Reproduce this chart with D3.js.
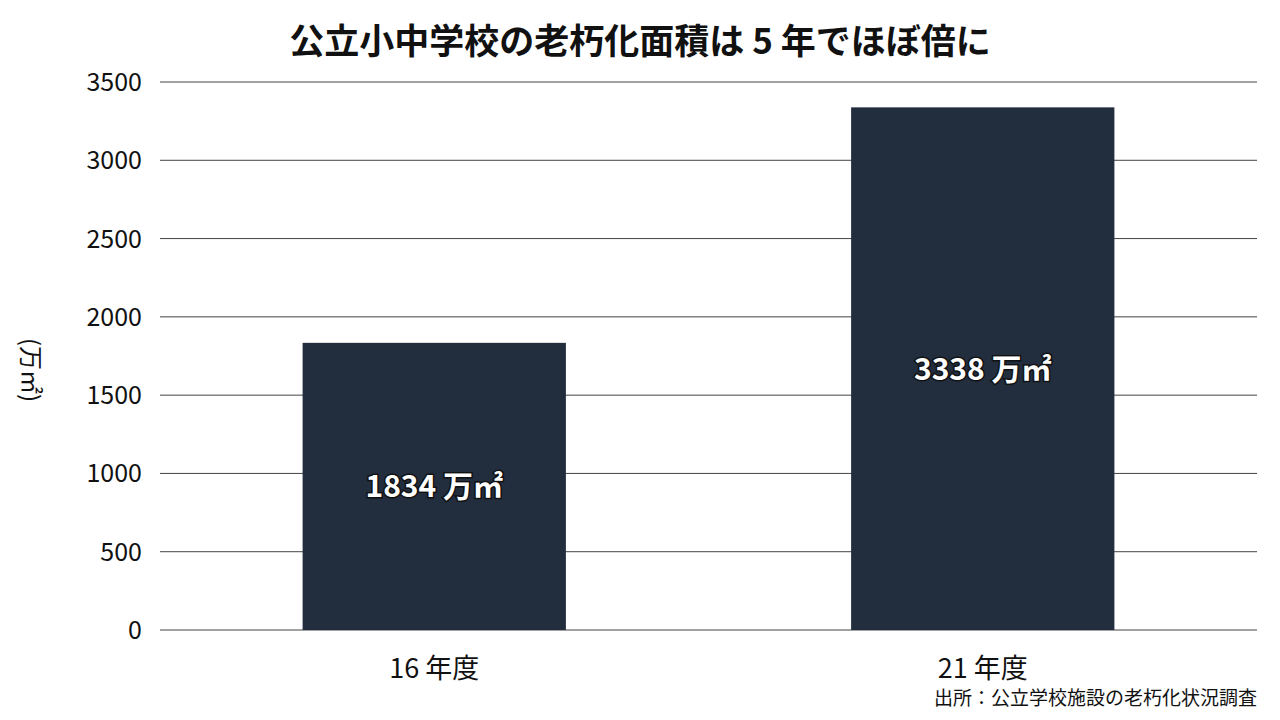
<!DOCTYPE html>
<html><head><meta charset="utf-8">
<script src="https://cdn.jsdelivr.net/npm/d3@7"></script>
<style>body{margin:0;background:#fff}text{font-family:"Noto Sans CJK JP","Noto Sans",sans-serif}</style>
</head><body><svg id="c" width="1280" height="720"></svg>
<script>
const categories = ["16 年度", "21 年度"];
const values = [1834, 3338];
const barLabels = ["1834 万㎡", "3338 万㎡"];
const yTicks = [0, 500, 1000, 1500, 2000, 2500, 3000, 3500];

const svg = d3.select("#c");
const x = d3.scaleBand().domain(categories).range([160, 1257]).padding(0);
const y = d3.scaleLinear().domain([0, 3500]).range([630, 82]);
const bw = x.bandwidth() * 0.48;

svg.append("g").selectAll("line").data(yTicks).join("line")
  .attr("x1", 160).attr("x2", 1257).attr("y1", d => y(d)).attr("y2", d => y(d))
  .attr("stroke", "#444").attr("stroke-width", 1);
svg.append("g").selectAll("text").data(yTicks).join("text")
  .attr("x", 142).attr("y", d => y(d) + 9).attr("text-anchor", "end")
  .attr("font-size", 25).attr("fill", "#111").text(d => d);

svg.append("g").selectAll("rect").data(values).join("rect")
  .attr("x", (d, i) => x(categories[i]) + x.bandwidth() / 2 - bw / 2)
  .attr("width", bw).attr("y", d => y(d)).attr("height", d => y(0) - y(d))
  .attr("fill", "#222d3e");

svg.append("g").selectAll("text").data(values).join("text")
  .attr("x", (d, i) => x(categories[i]) + x.bandwidth() / 2)
  .attr("y", d => (y(d) + y(0)) / 2 + 11)
  .attr("text-anchor", "middle").attr("font-size", 30).attr("font-weight", "bold")
  .attr("fill", "#fff").attr("stroke", "#111").attr("stroke-width", 3).attr("paint-order", "stroke")
  .text((d, i) => barLabels[i]);

svg.append("g").selectAll("text").data(categories).join("text")
  .attr("x", d => x(d) + x.bandwidth() / 2).attr("y", 678).attr("text-anchor", "middle")
  .attr("font-size", 27).attr("fill", "#111").text(d => d);

svg.append("text").attr("transform", "translate(22,370) rotate(90)").attr("text-anchor", "middle")
  .attr("font-size", 24).attr("fill", "#111").text("(万㎡)");

svg.append("text").attr("x", 640).attr("y", 54).attr("text-anchor", "middle")
  .attr("font-size", 35).attr("font-weight", "bold").attr("fill", "#111")
  .text("公立小中学校の老朽化面積は 5 年でほぼ倍に");

svg.append("text").attr("x", 1257).attr("y", 705).attr("text-anchor", "end")
  .attr("font-size", 19).attr("fill", "#111").text("出所：公立学校施設の老朽化状況調査");
</script></body></html>
